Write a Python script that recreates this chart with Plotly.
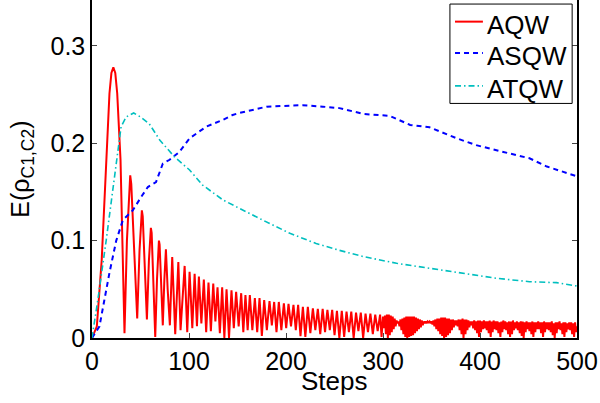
import plotly.graph_objects as go

# ---------------- AQW (red) : explicit peaks / troughs ----------------
aqw_x_early = [0, 5, 10, 14.6, 18, 20, 22, 24, 26, 29.4, 31.8, 33.5, 36, 38.3, 39.4, 40.5, 43, 46.6,
               49, 50.5, 51.4, 52.3, 54, 56.6, 58.7, 59.9, 60.7, 61.5, 63, 65.2, 67, 68.3, 69, 69.7,
               71, 73, 74.6, 76.2, 78, 80.3, 82.7, 85.8, 89, 91.3, 95.5, 98.2, 100.6, 103.4, 105.8,
               108.2]
aqw_y_early = [0, 0.012, 0.080, 0.183, 0.251, 0.272, 0.278, 0.272, 0.251, 0.183, 0.080, 0.005,
               0.10, 0.158, 0.167, 0.158, 0.10, 0.020, 0.09, 0.125, 0.131, 0.125, 0.08, 0.019,
               0.08, 0.108, 0.113, 0.108, 0.06, 0.001, 0.06, 0.096, 0.100, 0.096, 0.06, 0.013,
               0.06, 0.091, 0.05, 0.013, 0.083, 0.004, 0.078, 0.008, 0.074, 0.006, 0.068, 0.010,
               0.066, 0.012]

aqw_peak_x = [110.2, 115.3, 120.1, 125, 129.4, 134.2, 138.7, 143.8, 148.6, 153.8, 158.2, 162.7,
              167.9, 172.7, 177.5, 183, 187.8, 192.6, 197.8, 202.6, 207.7, 212.5, 217.4, 222.5,
              227.7, 232.8, 237.8, 242.7, 247.6, 252.5, 257.5, 262.4, 267.3, 272.2, 277.1, 282,
              287, 292, 297]
aqw_peak_y = [0.063, 0.060, 0.057, 0.056, 0.052, 0.052, 0.050, 0.049, 0.0475, 0.046, 0.044, 0.044,
              0.041, 0.041, 0.039, 0.038, 0.037, 0.037, 0.0356, 0.035, 0.034, 0.034, 0.032, 0.032,
              0.0305, 0.030, 0.030, 0.029, 0.029, 0.028, 0.028, 0.027, 0.027, 0.026, 0.026, 0.025,
              0.025, 0.024, 0.024]
aqw_trough_y = [0.015, 0.006, 0.007, 0.017, 0.005, 0.0, 0.0, 0.010, 0.012, 0.006, 0.008, 0.008,
                0.006, 0.002, 0.008, 0.013, 0.006, 0.008, 0.010, 0.012, 0.008, 0.002, 0.001, 0.005,
                0.008, 0.004, 0.006, 0.008, 0.003, 0.0, 0.001, 0.006, 0.0, 0.007, 0.0, 0.006,
                0.004, 0.007, 0.001]

# steps 300..498 (even) high samples and 301..499 (odd) low samples
aqw_hi_steps = list(range(300, 500, 2))
aqw_hi = [0.022, 0.023, 0.024, 0.024, 0.023, 0.022, 0.020, 0.018,
          0.017, 0.019, 0.020, 0.021, 0.022, 0.022, 0.022, 0.022, 0.022, 0.021, 0.020, 0.019, 0.018, 0.017,
          0.017, 0.017, 0.017, 0.017,
          0.018, 0.019, 0.020, 0.020, 0.021, 0.021, 0.021, 0.020, 0.020, 0.019, 0.019, 0.018,
          0.018, 0.019, 0.019, 0.020, 0.019, 0.019, 0.018, 0.017,
          0.017, 0.018, 0.017, 0.018, 0.018, 0.017, 0.018, 0.017, 0.017, 0.018,
          0.017, 0.018, 0.017, 0.017, 0.016, 0.017, 0.018, 0.017, 0.016, 0.017,
          0.017, 0.018, 0.016, 0.017, 0.016, 0.017, 0.017, 0.016, 0.017, 0.016,
          0.016, 0.017, 0.016, 0.016, 0.017, 0.016, 0.016, 0.017, 0.016, 0.016,
          0.016, 0.017, 0.015, 0.016, 0.016, 0.017, 0.015, 0.016, 0.016, 0.015,
          0.016, 0.016, 0.015, 0.016]
aqw_lo_steps = list(range(301, 500, 2))
aqw_lo = [0.010, 0.004, 0.0, 0.003, 0.006, 0.009, 0.012, 0.015,
          0.012, 0.008, 0.004, 0.001, 0.0, 0.001, 0.002, 0.003, 0.005, 0.007, 0.009, 0.011, 0.013, 0.015,
          0.015, 0.016, 0.015, 0.014,
          0.012, 0.009, 0.007, 0.004, 0.002, 0.0, 0.001, 0.003, 0.005, 0.008, 0.011, 0.013,
          0.012, 0.008, 0.004, 0.0, 0.004, 0.008, 0.011, 0.013,
          0.010, 0.008, 0.005, 0.001, 0.006, 0.009, 0.010, 0.008, 0.005, 0.001,
          0.006, 0.009, 0.008, 0.005, 0.001, 0.006, 0.009, 0.008, 0.004, 0.001,
          0.004, 0.008, 0.010, 0.008, 0.005, 0.002, 0.0, 0.006, 0.009, 0.007,
          0.004, 0.001, 0.006, 0.009, 0.009, 0.005, 0.001, 0.006, 0.009, 0.008,
          0.006, 0.003, 0.0, 0.005, 0.009, 0.008, 0.004, 0.001, 0.006, 0.009,
          0.008, 0.004, 0.001, 0.006]
aqw_end_x = [500]
aqw_end_y = [0.012]

# ---------------- ASQW (blue dashed) ----------------
asqw_x = [0, 7.7, 18, 25, 31.8, 42, 50.8, 57.6, 66, 73, 80, 90, 100.6, 111, 117.8, 135, 145, 152,
          165, 180, 204, 217, 238, 255, 280, 297, 307, 328, 348, 376, 396, 424, 451, 469, 500]
asqw_y = [0, 0.012, 0.067, 0.100, 0.121, 0.131, 0.145, 0.155, 0.160, 0.179, 0.183, 0.191, 0.205,
          0.212, 0.217, 0.224, 0.229, 0.231, 0.234, 0.2375, 0.2385, 0.239, 0.2375, 0.236, 0.230,
          0.2286, 0.228, 0.2187, 0.2163, 0.205, 0.198, 0.191, 0.1845, 0.176, 0.166]

# ---------------- ATQW (cyan dash-dot) ----------------
atqw_x = [0, 6, 14.6, 21.5, 26.6, 30, 35.3, 43, 50, 59, 70, 85, 100.6, 114, 135, 155.6, 176, 204,
          231, 255, 280, 314, 348, 383, 417, 451, 479, 500]
atqw_y = [0, 0.039, 0.100, 0.152, 0.196, 0.217, 0.227, 0.231, 0.227, 0.220, 0.203, 0.186, 0.1725,
          0.157, 0.1417, 0.131, 0.121, 0.1075, 0.097, 0.090, 0.0835, 0.0767, 0.0716, 0.0664,
          0.0613, 0.0578, 0.0568, 0.0534]

x_ticks = [0, 100, 200, 300, 400, 500]
y_ticks = [0, 0.1, 0.2, 0.3]
y_tick_text = ["0", "0.1", "0.2", "0.3"]

series_names = ["AQW", "ASQW", "ATQW"]
series_colors = ["#FF0000", "#0000FF", "#00BFBF"]
series_dash = ["solid", "5px,4px", "6px,3px,1.5px,3px"]
series_width = [2, 2, 1.6]

# assemble red series (interleaving read values)
aqw_x = list(aqw_x_early)
aqw_y = list(aqw_y_early)
for i in range(len(aqw_peak_x)):
    aqw_x.append(aqw_peak_x[i]); aqw_y.append(aqw_peak_y[i])
    nxt = aqw_peak_x[i + 1] if i + 1 < len(aqw_peak_x) else 300
    aqw_x.append((aqw_peak_x[i] + nxt) / 2); aqw_y.append(aqw_trough_y[i])
for i in range(len(aqw_hi)):
    aqw_x.append(aqw_hi_steps[i]); aqw_y.append(aqw_hi[i])
    aqw_x.append(aqw_lo_steps[i]); aqw_y.append(aqw_lo[i])
aqw_x += aqw_end_x
aqw_y += aqw_end_y

FONT = "Liberation Sans, Arial, Helvetica, sans-serif"
xs = [aqw_x, asqw_x, atqw_x]
ys = [aqw_y, asqw_y, atqw_y]

fig = go.Figure()
for i in range(3):
    fig.add_trace(go.Scatter(x=xs[i], y=ys[i], mode="lines", name=series_names[i],
                             showlegend=False,
                             line=dict(color=series_colors[i], width=series_width[i],
                                       dash=series_dash[i])))

# legend box drawn manually (paper coordinates)
shapes = [dict(type="rect", xref="paper", yref="paper", x0=0.738, x1=0.990, y0=0.694, y1=0.988,
               line=dict(color="black", width=1), fillcolor="white", layer="above")]
annotations = []
line_y = [0.936, 0.843, 0.746]
text_y = [0.926, 0.833, 0.736]
for i in range(3):
    shapes.append(dict(type="line", xref="paper", yref="paper", x0=0.7485, x1=0.806,
                       y0=line_y[i], y1=line_y[i], layer="above",
                       line=dict(color=series_colors[i], width=series_width[i],
                                 dash=series_dash[i])))
    annotations.append(dict(text=series_names[i], xref="paper", yref="paper", x=0.810,
                            y=text_y[i], xanchor="left", yanchor="middle", showarrow=False,
                            font=dict(size=26, family=FONT, color="black")))
annotations.append(dict(text="Steps", xref="paper", yref="paper", x=0.501, y=-0.127,
                        xanchor="center", yanchor="middle", showarrow=False,
                        font=dict(size=26, family=FONT, color="black")))
annotations.append(dict(text="E(ρ<sub>C1,C2</sub>)", xref="paper", yref="paper", x=-0.145,
                        y=0.5, xanchor="center", yanchor="middle", textangle=-90,
                        showarrow=False, font=dict(size=25, family=FONT, color="black")))

fig.update_layout(
    width=600, height=403,
    margin=dict(l=92, r=23, t=0, b=65),
    paper_bgcolor="white", plot_bgcolor="white",
    font=dict(family=FONT, size=25, color="black"),
    showlegend=False,
    shapes=shapes, annotations=annotations,
    xaxis=dict(range=[0, 500], tickvals=x_ticks, ticks="inside", ticklen=5,
               showline=True, linecolor="black", linewidth=2, mirror=False,
               showgrid=False, zeroline=False, tickfont=dict(size=25), automargin=False),
    yaxis=dict(range=[0, 0.347], tickvals=y_ticks, ticktext=y_tick_text,
               ticks="inside", ticklen=5,
               showline=True, linecolor="black", linewidth=1.5, mirror="ticks",
               showgrid=False, zeroline=False, tickfont=dict(size=25), automargin=False),
)

fig.write_html("out.html", config={"displayModeBar": False},
               post_script="document.body.style.margin='0';")
